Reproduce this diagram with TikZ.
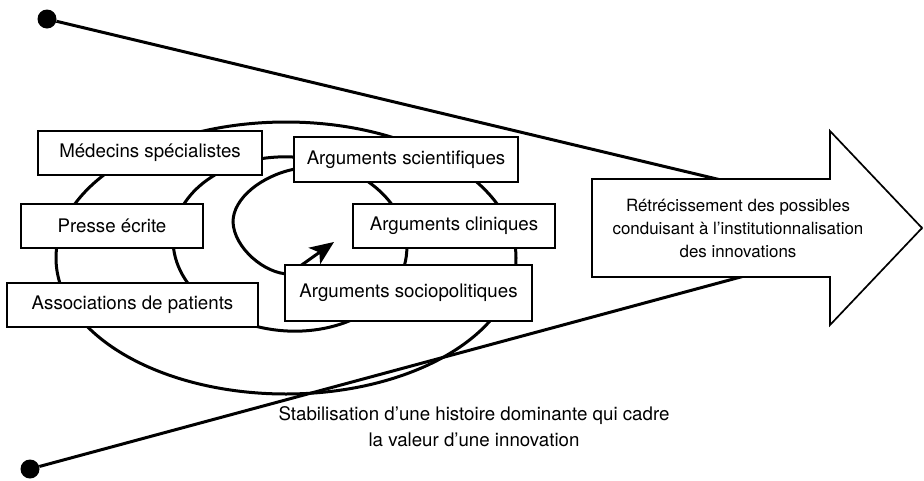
\documentclass[tikz,border=0pt]{standalone}
\usepackage{fontspec}
\setmainfont{TeX Gyre Heros}
\usetikzlibrary{arrows.meta, backgrounds}

\tikzset{
  actor/.style={draw, line width=1.7pt, fill=white, inner sep=0pt,
    font=\fontsize{18.7}{22}\selectfont},
  ring/.style={line width=3pt},
  dot/.style={circle, fill, inner sep=0pt, minimum size=19pt},
}

\begin{document}
\begin{tikzpicture}[x=1pt, y=-1pt]
      \useasboundingbox (0,0) rectangle (924,480);
      \node [actor, minimum width=224, minimum height=44] (med) at (150,153) {Médecins spécialistes};
      \node [actor, minimum width=182, minimum height=44] (press) at (112,226) {Presse écrite};
      \node [actor, minimum width=251, minimum height=44] (assoc) at (132.5,305) {Associations de patients};
      \node [actor, minimum width=224, minimum height=45] (sci) at (406,159.5) {Arguments scientifiques};
      \node [actor, minimum width=202, minimum height=44] (cli) at (454,226) {Arguments cliniques};
      \node [actor, minimum width=247, minimum height=56] (socio) at (408.5,293) {Arguments sociopolitiques};
      % big arrow
      \draw [line width=1.7pt, fill=white] (592,179) -- (830,179) -- (830,131) -- (922,228)
        -- (830,325) -- (830,277) -- (592,277) -- cycle;
      \coordinate (tip) at (922,228);
      \node [align=center, font=\fontsize{16.9}{23}\selectfont] (goal) at (738,228)
        {Rétrécissement des possibles\\conduisant à l’institutionnalisation\\des innovations};
      \node [align=center, font=\fontsize{18.7}{26}\selectfont] (story) at (474,427)
        {Stabilisation d’une histoire dominante qui cadre\\la valeur d’une innovation};
      \node [dot] (top) at (47,19) {};
      \node [dot] (bottom) at (30,469) {};
      \coordinate (bend) at (289,274);
      \coordinate (aim) at (334,242);
      \begin{scope}[on background layer]
        \draw [ring] (286,258) ellipse [x radius=230, y radius=136];
        \draw [ring, rotate around={-4:(290,244)}] (290,244) ellipse [x radius=117, y radius=87];
        \draw [ring, -{Stealth[length=24pt, width=20pt, inset=6pt]}] (sci.185)
          .. controls (262,176) and (233,198) .. (233,222)
          .. controls (234,248) and (265,274) .. (bend) -- (aim);
        \draw [ring] (top) -- (tip);
        \draw [ring] (bottom) -- (tip);
      \end{scope}
\end{tikzpicture}
\end{document}
